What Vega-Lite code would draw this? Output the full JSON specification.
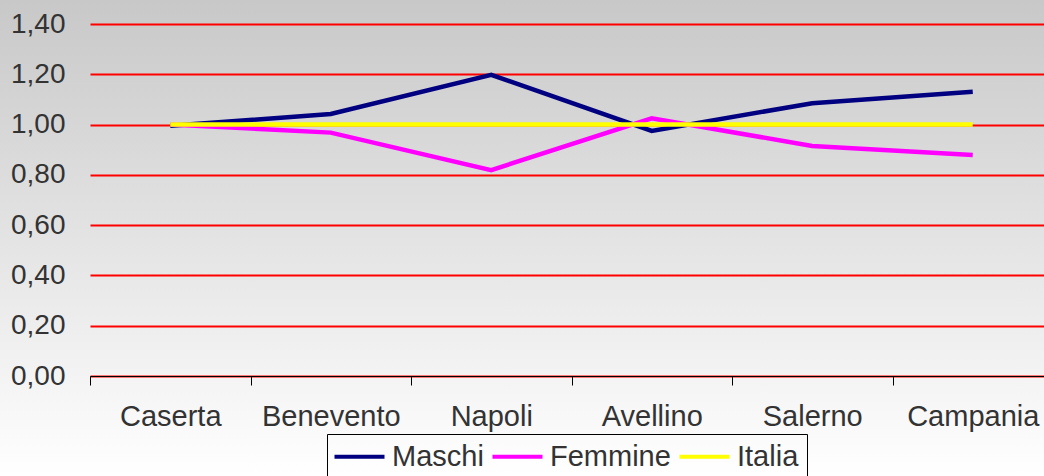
{
  "$schema": "https://vega.github.io/schema/vega-lite/v6.json",
  "width": 1044,
  "height": 476,
  "autosize": {"type": "none"},
  "padding": 0,
  "background": "#ffffff",
  "config": {
    "font": "Liberation Sans",
    "view": {
      "stroke": null,
      "fill": {
        "gradient": "linear",
        "x1": 0, "y1": 0, "x2": 0, "y2": 1,
        "stops": [
          {"offset": 0, "color": "#c8c8c8"},
          {"offset": 1, "color": "#ffffff"}
        ]
      }
    }
  },
  "data": {
    "values": [
      {"provincia": "Caserta", "serie": "Maschi", "valore": 0.995},
      {"provincia": "Benevento", "serie": "Maschi", "valore": 1.042},
      {"provincia": "Napoli", "serie": "Maschi", "valore": 1.198},
      {"provincia": "Avellino", "serie": "Maschi", "valore": 0.975},
      {"provincia": "Salerno", "serie": "Maschi", "valore": 1.085},
      {"provincia": "Campania", "serie": "Maschi", "valore": 1.131},
      {"provincia": "Caserta", "serie": "Femmine", "valore": 1.0},
      {"provincia": "Benevento", "serie": "Femmine", "valore": 0.968},
      {"provincia": "Napoli", "serie": "Femmine", "valore": 0.819},
      {"provincia": "Avellino", "serie": "Femmine", "valore": 1.025},
      {"provincia": "Salerno", "serie": "Femmine", "valore": 0.915},
      {"provincia": "Campania", "serie": "Femmine", "valore": 0.879},
      {"provincia": "Caserta", "serie": "Italia", "valore": 1.0},
      {"provincia": "Benevento", "serie": "Italia", "valore": 1.0},
      {"provincia": "Napoli", "serie": "Italia", "valore": 1.0},
      {"provincia": "Avellino", "serie": "Italia", "valore": 1.0},
      {"provincia": "Salerno", "serie": "Italia", "valore": 1.0},
      {"provincia": "Campania", "serie": "Italia", "valore": 1.0}
    ]
  },
  "mark": {"type": "line", "strokeWidth": 4.5, "clip": false},
  "encoding": {
    "x": {
      "field": "provincia",
      "type": "nominal",
      "sort": ["Caserta", "Benevento", "Napoli", "Avellino", "Salerno", "Campania"],
      "scale": {"type": "band", "range": [90, 1053], "paddingInner": 0, "paddingOuter": 0},
      "axis": {
        "title": null,
        "offset": -100,
        "zindex": 1,
        "grid": false,
        "domainColor": "#000000",
        "domainWidth": 1,
        "tickColor": "#000000",
        "tickWidth": 1,
        "tickSize": 9,
        "tickBand": "extent",
        "labelAngle": 0,
        "labelFontSize": 29,
        "labelColor": "#333333",
        "labelPadding": 17
      }
    },
    "y": {
      "field": "valore",
      "type": "quantitative",
      "scale": {"domain": [0, 1.4], "range": [376, 24], "nice": false},
      "axis": {
        "title": null,
        "offset": -90,
        "domain": false,
        "ticks": false,
        "grid": true,
        "gridColor": "#ff0000",
        "gridWidth": 2,
        "values": [0, 0.2, 0.4, 0.6, 0.8, 1.0, 1.2, 1.4],
        "labelExpr": "replace(format(datum.value, '.2f'), '.', ',')",
        "labelFontSize": 28,
        "labelColor": "#333333",
        "labelPadding": 25
      }
    },
    "color": {
      "field": "serie",
      "type": "nominal",
      "scale": {"domain": ["Maschi", "Femmine", "Italia"], "range": ["#000080", "#ff00ff", "#ffff00"]},
      "legend": {
        "orient": "none",
        "legendX": 327,
        "legendY": 434,
        "direction": "horizontal",
        "title": null,
        "symbolType": "M-1.5,0H3.5",
        "symbolSize": 400,
        "symbolStrokeWidth": 4,
        "labelFontSize": 29,
        "labelColor": "#333333",
        "strokeColor": "#000000",
        "padding": 8,
        "columnPadding": 0,
        "labelOffset": 28
      }
    }
  }
}
